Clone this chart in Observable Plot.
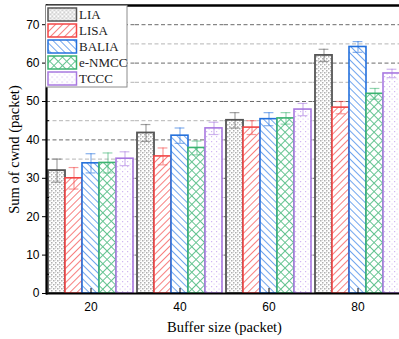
<!DOCTYPE html>
<html><head><meta charset="utf-8">
<script src="https://cdn.jsdelivr.net/npm/d3@7"></script>
<script src="https://cdn.jsdelivr.net/npm/@observablehq/plot@0.6"></script>
<style>
body{margin:0;background:#fff;overflow:hidden}
#chart{width:399px;height:339px;overflow:hidden}
[aria-label="y-axis label"],[aria-label="fx-axis label"]{font-family:"Liberation Serif","Times New Roman",serif;font-size:14.5px}
.lgtext{font-family:"Liberation Serif","Times New Roman",serif;font-size:13px}
</style></head><body><div id="chart"></div>
<script>
const buffers = [20, 40, 60, 80];
const series = ["LIA", "LISA", "BALIA", "e-NMCC", "TCCC"];
const colors = ["#555555", "#f24545", "#2370dc", "#3cb371", "#a878e0"];
const valLIA = [32.0, 41.8, 45.1, 62.0];
const valLISA = [30.0, 35.7, 43.2, 48.4];
const valBALIA = [33.9, 41.1, 45.4, 64.2];
const valNMCC = [34.0, 37.9, 45.6, 52.0];
const valTCCC = [35.1, 43.0, 47.9, 57.3];
const errLIA = [3.0, 2.2, 2.0, 1.6];
const errLISA = [2.8, 2.2, 1.8, 1.6];
const errBALIA = [2.5, 2.0, 1.7, 1.4];
const errNMCC = [2.6, 1.8, 1.5, 1.4];
const errTCCC = [1.8, 1.6, 1.6, 1.1];
const majorTicks = [0, 10, 20, 30, 40, 50, 60, 70];
const minorTicks = [5, 15, 25, 35, 45, 55, 65];

const values = [valLIA, valLISA, valBALIA, valNMCC, valTCCC];
const errs = [errLIA, errLISA, errBALIA, errNMCC, errTCCC];
const rows = [];
buffers.forEach((b, i) => series.forEach((s, j) =>
  rows.push({buffer: b, series: s, idx: j, value: values[j][i], err: errs[j][i]})));

const patId = j => `pat-${j}`;

const plot = Plot.plot({
  width: 399, height: 339,
  marginLeft: 45, marginRight: 0, marginTop: 5, marginBottom: 46,
  style: {fontFamily: "'Liberation Sans', Arial, sans-serif", fontSize: "12px", background: "white", overflow: "hidden"},
  fx: {domain: buffers, range: [45, 403], padding: 0},
  x: {domain: series, paddingInner: 0, paddingOuter: 0.1, axis: null},
  y: {domain: [0, 75], axis: null},
  color: {domain: series, range: colors},
  marks: [
    Plot.ruleY(minorTicks, {stroke: "#b5b5b5", strokeDasharray: "4,2.5", strokeWidth: 1}),
    Plot.ruleY(majorTicks.filter(d => d > 0), {stroke: "#6a6a6a", strokeDasharray: "4,2.5", strokeWidth: 1}),
    ...series.map((s, j) => Plot.barY(rows.filter(d => d.series === s), {
      fx: "buffer", x: "series", y: "value",
      fill: `url(#${patId(j)})`, stroke: colors[j], strokeWidth: j === 0 ? 1.8 : 1.6
    })),
    Plot.ruleX(rows, {fx: "buffer", x: "series", y1: d => d.value - d.err, y2: d => d.value + d.err,
      stroke: "series", strokeOpacity: 0.55, strokeWidth: 1.2}),
    Plot.tickY(rows, {fx: "buffer", x: "series", y: d => d.value + d.err, stroke: "series",
      strokeOpacity: 0.55, strokeWidth: 1.2, insetLeft: 3.6, insetRight: 3.6}),
    Plot.tickY(rows, {fx: "buffer", x: "series", y: d => d.value - d.err, stroke: "series",
      strokeOpacity: 0.55, strokeWidth: 1.2, insetLeft: 3.6, insetRight: 3.6}),
    Plot.ruleY([75], {stroke: "#000", strokeWidth: 2.5}),
    Plot.ruleY([0], {stroke: "#000", strokeWidth: 2.2}),
    Plot.frame({anchor: "left", facetAnchor: "left", stroke: "#000", strokeWidth: 2.2}),
    Plot.axisY({ticks: majorTicks, tickSize: 4, tickPadding: 3, fontSize: 12,
      label: "Sum of cwnd (packet)", labelAnchor: "center", labelArrow: "none", labelOffset: 38}),
    Plot.axisY({ticks: minorTicks, tickSize: -3, text: null, label: null}),
    Plot.axisFx({anchor: "bottom", tickSize: -5, tickPadding: 14, fontSize: 12,
      label: "Buffer size (packet)", labelAnchor: "center", labelArrow: "none", labelOffset: 38})
  ]
});

document.getElementById("chart").appendChild(plot);

// patterns
const svg = d3.select(plot.tagName.toLowerCase() === "svg" ? plot : plot.querySelector("svg"));
const defs = svg.insert("defs", ":first-child");
// LIA: light gray stipple
let p = defs.append("pattern").attr("id", patId(0)).attr("patternUnits", "userSpaceOnUse").attr("width", 4).attr("height", 4);
p.append("rect").attr("width", 4).attr("height", 4).attr("fill", "#fff");
p.append("rect").attr("x", 0).attr("y", 0).attr("width", 1.5).attr("height", 1.5).attr("fill", "#b0b0b0");
p.append("rect").attr("x", 2).attr("y", 2).attr("width", 1.5).attr("height", 1.5).attr("fill", "#b0b0b0");
p.append("rect").attr("x", 2).attr("y", 0).attr("width", 1).attr("height", 1).attr("fill", "#dcdcdc");
// LISA: "/" lines
p = defs.append("pattern").attr("id", patId(1)).attr("patternUnits", "userSpaceOnUse").attr("width", 5).attr("height", 5).attr("patternTransform", "rotate(45)");
p.append("rect").attr("width", 5).attr("height", 5).attr("fill", "#fff");
p.append("line").attr("x1", 0.5).attr("x2", 0.5).attr("y1", 0).attr("y2", 5).attr("stroke", "#f78080").attr("stroke-width", 1);
// BALIA: "\" lines
p = defs.append("pattern").attr("id", patId(2)).attr("patternUnits", "userSpaceOnUse").attr("width", 5).attr("height", 5).attr("patternTransform", "rotate(-45)");
p.append("rect").attr("width", 5).attr("height", 5).attr("fill", "#fff");
p.append("line").attr("x1", 0.5).attr("x2", 0.5).attr("y1", 0).attr("y2", 5).attr("stroke", "#72a6ee").attr("stroke-width", 1);
// e-NMCC: cross hatch
p = defs.append("pattern").attr("id", patId(3)).attr("patternUnits", "userSpaceOnUse").attr("width", 6).attr("height", 6).attr("patternTransform", "rotate(45)");
p.append("rect").attr("width", 6).attr("height", 6).attr("fill", "#fff");
p.append("line").attr("x1", 0.5).attr("x2", 0.5).attr("y1", 0).attr("y2", 6).attr("stroke", "#66c492").attr("stroke-width", 1);
p.append("line").attr("x1", 0).attr("x2", 6).attr("y1", 0.5).attr("y2", 0.5).attr("stroke", "#66c492").attr("stroke-width", 1);
// TCCC: sparse dots
p = defs.append("pattern").attr("id", patId(4)).attr("patternUnits", "userSpaceOnUse").attr("width", 5).attr("height", 5);
p.append("rect").attr("width", 5).attr("height", 5).attr("fill", "#fff");
p.append("rect").attr("x", 1).attr("y", 1).attr("width", 1.2).attr("height", 1.2).attr("fill", "#d2b6f2");
p.append("rect").attr("x", 3.5).attr("y", 3.5).attr("width", 1.2).attr("height", 1.2).attr("fill", "#e2cff7");

// legend (inside plot, top-left)
const lg = svg.append("g").attr("transform", "translate(45.5,5.5)").attr("text-anchor", "start");
lg.append("rect").attr("width", 81.5).attr("height", 81.5).attr("fill", "#fff").attr("stroke", "#8c8c8c").attr("stroke-width", 1);
series.forEach((s, j) => {
  const gy = 2.5 + j * 16;
  lg.append("rect").attr("x", 2.5).attr("y", gy).attr("width", 28.5).attr("height", 13)
    .attr("fill", `url(#${patId(j)})`).attr("stroke", colors[j]).attr("stroke-width", 1.5);
  lg.append("text").attr("class", "lgtext").attr("x", 33.5).attr("y", gy + 11).attr("text-anchor", "start")
    .attr("fill", "#222").text(s);
});
</script></body></html>
